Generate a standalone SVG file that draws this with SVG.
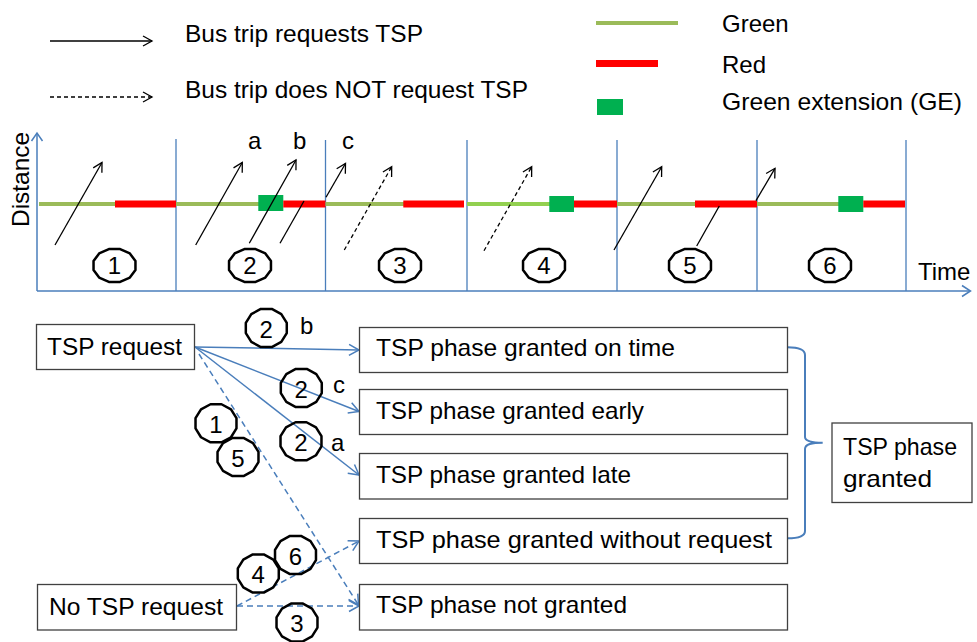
<svg xmlns="http://www.w3.org/2000/svg" xmlns:xlink="http://www.w3.org/1999/xlink" width="977" height="642" viewBox="0 0 977 642">
<style>
text{font-family:"Liberation Sans",Arial,sans-serif;font-size:24px;fill:#000}
.dig{font-size:24px;text-anchor:middle}
.box{fill:#fff;stroke:#404040;stroke-width:1.3}
.blue{fill:none;stroke:#4a7ebb;stroke-width:1.5}
.bdash{stroke-dasharray:6 4}
.traj{fill:none;stroke:#000;stroke-width:1.3}
.kdash{stroke-dasharray:4 3}
.axis{fill:none;stroke:#4a7ebb;stroke-width:1.5}
.div{fill:none;stroke:#4a7ebb;stroke-width:1.3}
.grn{stroke:#9bbb59;stroke-width:4}
.grn2{stroke:#92d050;stroke-width:4}
.red{stroke:#ff0000;stroke-width:7}
.ge{fill:#00b050}
.ring{fill:none;stroke:#000;stroke-width:2.5;stroke-linejoin:round}
</style>
<defs>
<marker id="ak" markerUnits="userSpaceOnUse" markerWidth="14" markerHeight="14" refX="10" refY="5.5" orient="auto" overflow="visible">
<path d="M1,0.5 L10,5.5 L1,10.5" fill="none" stroke="#000" stroke-width="1.3" stroke-dasharray="none"/>
</marker>
<marker id="ab" markerUnits="userSpaceOnUse" markerWidth="14" markerHeight="14" refX="11" refY="6" orient="auto" overflow="visible">
<path d="M1,0.5 L11,6 L1,11.5" fill="none" stroke="#4a7ebb" stroke-width="1.5" stroke-dasharray="none"/>
</marker>
<polygon id="dtop" class="ring" points="20.96,4.40 15.34,12.02 5.62,16.42 -5.62,16.42 -15.34,12.02 -20.96,4.40 -20.96,-4.40 -15.34,-12.02 -5.62,-16.42 5.62,-16.42 15.34,-12.02 20.96,-4.40"/>
<polygon id="dbot" class="ring" points="20.48,5.10 14.99,13.93 5.49,19.03 -5.49,19.03 -14.99,13.93 -20.48,5.10 -20.48,-5.10 -14.99,-13.93 -5.49,-19.03 5.49,-19.03 14.99,-13.93 20.48,-5.10"/>
</defs>
<rect width="977" height="642" fill="#fff"/>

<g id="legend">
<line class="traj" x1="50" y1="41" x2="152" y2="41" marker-end="url(#ak)"/>
<text x="185" y="42" textLength="238" lengthAdjust="spacingAndGlyphs">Bus trip requests TSP</text>
<line class="traj kdash" x1="50" y1="97" x2="152" y2="97" marker-end="url(#ak)"/>
<text x="185" y="98" textLength="343" lengthAdjust="spacingAndGlyphs">Bus trip does NOT request TSP</text>
<line class="grn" x1="596" y1="23" x2="678" y2="23"/>
<text x="722" y="32">Green</text>
<line class="red" x1="596" y1="63.5" x2="658" y2="63.5"/>
<text x="722" y="73">Red</text>
<rect class="ge" x="597" y="99" width="26" height="16"/>
<text x="722" y="110" textLength="240" lengthAdjust="spacingAndGlyphs">Green extension (GE)</text>
</g>

<g id="chart">
<line class="axis" x1="37" y1="291" x2="37" y2="134"/>
<path class="axis" d="M31.5,141 L37,133 L42.5,141"/>
<line class="axis" x1="37" y1="291" x2="970" y2="291"/>
<path class="axis" d="M962,285.5 L970.5,291 L962,296.5"/>
<text transform="translate(29,227) rotate(-90)" textLength="95" lengthAdjust="spacingAndGlyphs">Distance</text>
<text x="918" y="280">Time</text>
<line class="div" x1="176" y1="139" x2="176" y2="291"/>
<line class="div" x1="325.5" y1="140" x2="325.5" y2="291"/>
<line class="div" x1="467" y1="140" x2="467" y2="291"/>
<line class="div" x1="617" y1="140" x2="617" y2="291"/>
<line class="div" x1="757" y1="140" x2="757" y2="291"/>
<line class="div" x1="906" y1="140" x2="906" y2="291"/>
<g id="signal">
<line class="grn" x1="39" y1="204" x2="116" y2="204"/>
<line class="red" x1="115" y1="204" x2="176" y2="204"/>
<line class="grn" x1="176" y1="204" x2="259" y2="204"/>
<rect class="ge" x="258.3" y="195" width="25" height="16"/>
<line class="red" x1="283.3" y1="204" x2="325.5" y2="204"/>
<line class="grn" x1="325.5" y1="204" x2="404" y2="204"/>
<line class="red" x1="403.3" y1="204" x2="464" y2="204"/>
<line class="grn2" x1="467" y1="204" x2="550" y2="204"/>
<rect class="ge" x="549.3" y="196" width="24.7" height="16"/>
<line class="red" x1="574" y1="204" x2="617" y2="204"/>
<line class="grn" x1="617" y1="204" x2="696" y2="204"/>
<line class="red" x1="695" y1="204" x2="757" y2="204"/>
<line class="grn" x1="757" y1="204" x2="839" y2="204"/>
<rect class="ge" x="838.3" y="196" width="25" height="16"/>
<line class="red" x1="863.3" y1="204" x2="905" y2="204"/>
</g>
<g id="trips">
<line class="traj" x1="55" y1="245" x2="102" y2="162.5" marker-end="url(#ak)"/>
<line class="traj" x1="195.7" y1="245" x2="242.3" y2="162.5" marker-end="url(#ak)"/>
<line class="traj" x1="249.3" y1="243.3" x2="296" y2="160" marker-end="url(#ak)"/>
<line class="traj" x1="280" y1="243.3" x2="304" y2="201"/>
<line class="traj" x1="326" y1="197.3" x2="345.5" y2="163.5" marker-end="url(#ak)"/>
<line class="traj kdash" x1="344.3" y1="250" x2="391.7" y2="166.7" marker-end="url(#ak)"/>
<line class="traj kdash" x1="484" y1="250.7" x2="531.7" y2="166.7" marker-end="url(#ak)"/>
<line class="traj" x1="614" y1="250" x2="661.7" y2="166.7" marker-end="url(#ak)"/>
<line class="traj" x1="696.7" y1="246" x2="719.3" y2="206"/>
<line class="traj" x1="756" y1="200.7" x2="775" y2="168.3" marker-end="url(#ak)"/>
</g>
<text x="248" y="149">a</text>
<text x="293" y="149">b</text>
<text x="342" y="149">c</text>
<g id="period-labels">
<use xlink:href="#dtop" x="114.5" y="265.5"/><text class="dig" x="114.5" y="274">1</text>
<use xlink:href="#dtop" x="250" y="265.5"/><text class="dig" x="250" y="274">2</text>
<use xlink:href="#dtop" x="400" y="265.5"/><text class="dig" x="400" y="274">3</text>
<use xlink:href="#dtop" x="544" y="265.5"/><text class="dig" x="544" y="274">4</text>
<use xlink:href="#dtop" x="690" y="265.5"/><text class="dig" x="690" y="274">5</text>
<use xlink:href="#dtop" x="830" y="265.5"/><text class="dig" x="830" y="274">6</text>
</g>
</g>

<g id="connectors">
<line class="blue" x1="195" y1="347" x2="359" y2="350" marker-end="url(#ab)"/>
<line class="blue" x1="195" y1="347" x2="359" y2="411.5" marker-end="url(#ab)"/>
<line class="blue" x1="195" y1="347" x2="359" y2="475" marker-end="url(#ab)"/>
<line class="blue bdash" x1="199" y1="354" x2="358.5" y2="605" marker-end="url(#ab)"/>
<line class="blue bdash" x1="237" y1="606" x2="359" y2="541" marker-end="url(#ab)"/>
<line class="blue bdash" x1="237" y1="606" x2="359" y2="606" marker-end="url(#ab)"/>
<path class="blue" style="stroke-width:2" d="M787.5,347.3 C797,347.3 805,348.5 805,355 L805,437 C805,441 810,442.7 822.7,442.7 C810,442.7 805,444.5 805,449 L805,531 C805,537 797,538.3 787.5,538.3"/>
</g>

<g id="edge-labels">
<use xlink:href="#dbot" x="266.3" y="328"/><text class="dig" x="266.3" y="337.5">2</text>
<text x="300" y="334">b</text>
<use xlink:href="#dbot" x="301.3" y="388"/><text class="dig" x="301.3" y="397.5">2</text>
<text x="333" y="393">c</text>
<use xlink:href="#dbot" x="301" y="441.3"/><text class="dig" x="301" y="450.8">2</text>
<text x="331" y="451">a</text>
<use xlink:href="#dbot" x="216" y="423.3"/><text class="dig" x="216" y="432.8">1</text>
<use xlink:href="#dbot" x="238" y="457"/><text class="dig" x="238" y="466.5">5</text>
<use xlink:href="#dbot" x="295.5" y="555"/><text class="dig" x="295.5" y="564.5">6</text>
<use xlink:href="#dbot" x="258.3" y="573.5"/><text class="dig" x="258.3" y="583">4</text>
<use xlink:href="#dbot" x="297" y="622.5"/><text class="dig" x="297" y="632">3</text>
</g>

<g id="node-tsp-request">
<rect class="box" x="36.5" y="324.5" width="158" height="45"/>
<text x="47" y="355" textLength="135" lengthAdjust="spacingAndGlyphs">TSP request</text>
</g>
<g id="node-no-tsp-request">
<rect class="box" x="37.5" y="584.5" width="199" height="45.5"/>
<text x="49" y="615" textLength="174" lengthAdjust="spacingAndGlyphs">No TSP request</text>
</g>
<g id="node-on-time">
<rect class="box" x="359.5" y="327.5" width="428" height="45"/>
<text x="376" y="356" textLength="299" lengthAdjust="spacingAndGlyphs">TSP phase granted on time</text>
</g>
<g id="node-early">
<rect class="box" x="359.5" y="389.5" width="428" height="45"/>
<text x="376" y="419" textLength="268" lengthAdjust="spacingAndGlyphs">TSP phase granted early</text>
</g>
<g id="node-late">
<rect class="box" x="359.5" y="453.5" width="428" height="45.5"/>
<text x="376" y="482.5" textLength="255" lengthAdjust="spacingAndGlyphs">TSP phase granted late</text>
</g>
<g id="node-without-request">
<rect class="box" x="359.5" y="518.5" width="428" height="45"/>
<text x="376" y="547.5" textLength="396" lengthAdjust="spacingAndGlyphs">TSP phase granted without request</text>
</g>
<g id="node-not-granted">
<rect class="box" x="359.5" y="584.5" width="428" height="45.5"/>
<text x="376" y="613" textLength="251" lengthAdjust="spacingAndGlyphs">TSP phase not granted</text>
</g>
<g id="node-granted">
<rect class="box" x="832" y="423" width="140" height="79.5"/>
<text x="843" y="455" textLength="114" lengthAdjust="spacingAndGlyphs">TSP phase</text>
<text x="843" y="487" textLength="89" lengthAdjust="spacingAndGlyphs">granted</text>
</g>
</svg>
